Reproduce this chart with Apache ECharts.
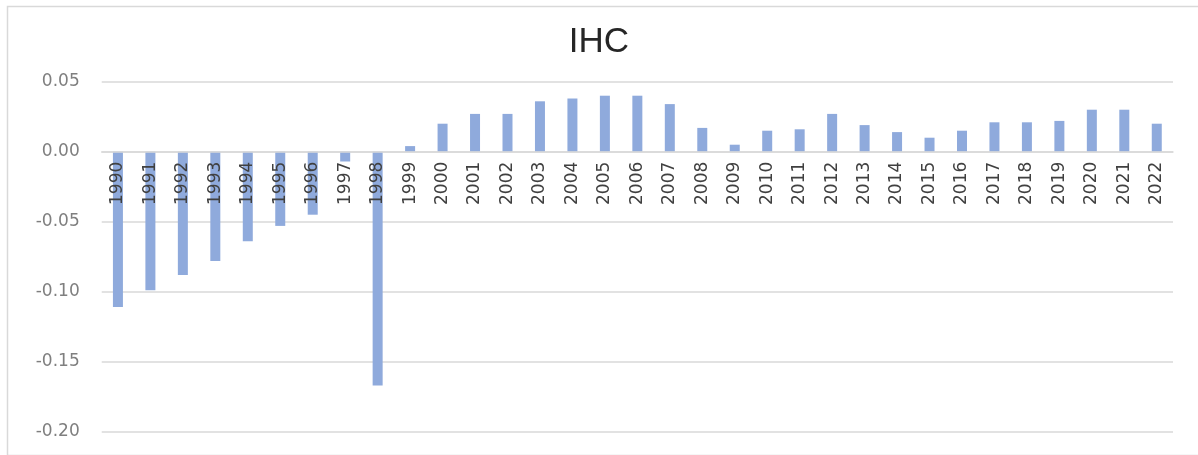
<!DOCTYPE html>
<html>
<head>
<meta charset="utf-8">
<script src="https://cdn.jsdelivr.net/npm/echarts@6/dist/echarts.min.js"></script>
<style>html,body{margin:0;padding:0;background:#fff;}#chart{width:1198px;height:455px;}</style>
</head>
<body>
<div id="chart"></div>
<script>
const chartTitle = 'IHC';
const years = ['1990','1991','1992','1993','1994','1995','1996','1997','1998','1999','2000','2001','2002','2003','2004','2005','2006','2007','2008','2009','2010','2011','2012','2013','2014','2015','2016','2017','2018','2019','2020','2021','2022'];
const ihcValues = [-0.111,-0.099,-0.088,-0.078,-0.064,-0.053,-0.045,-0.007,-0.167,0.004,0.020,0.027,0.027,0.036,0.038,0.040,0.040,0.034,0.017,0.005,0.015,0.016,0.027,0.019,0.014,0.010,0.015,0.021,0.021,0.022,0.030,0.030,0.020];
const yMin = -0.20, yMax = 0.05, yStep = 0.05;

const W = 1198, H = 455;
const gridTop = 81.7, gridBottom = 23.3;
const plotH = H - gridTop - gridBottom;
// shift the category axis up so it sits on the zero line
const zeroOffset = -((0 - yMin) / (yMax - yMin)) * plotH;

const chart = echarts.init(document.getElementById('chart'), null, {renderer: 'canvas'});
chart.setOption({
  animation: false,
  backgroundColor: '#ffffff',
  graphic: [{
    type: 'rect', left: 5, top: 4, shape: {x: 0, y: 0, width: 1200, height: 449},
    style: {fill: 'none', stroke: '#d9d9d9', lineWidth: 1.5}, silent: true
  }],
  title: {
    text: chartTitle, left: 'center', top: 20,
    textStyle: {fontFamily: 'Liberation Sans', fontSize: 35, fontWeight: 'normal', color: '#262626'}
  },
  grid: {left: 101.7, right: 25, top: gridTop, bottom: gridBottom, containLabel: false, outerBoundsMode: 'none'},
  xAxis: {
    type: 'category', data: years, position: 'bottom', offset: zeroOffset, z: 5,
    axisLine: {onZero: false, lineStyle: {color: '#d9d9d9', width: 1.5}},
    axisTick: {show: false},
    axisLabel: {rotate: 90, margin: 10, interval: 0, fontFamily: 'DejaVu Sans', fontSize: 17, color: '#404040'},
    splitLine: {show: false}
  },
  yAxis: {
    type: 'value', min: yMin, max: yMax, interval: yStep,
    axisLine: {show: false}, axisTick: {show: false},
    axisLabel: {margin: 22, fontFamily: 'DejaVu Sans', fontSize: 17, color: '#7f7f7f', formatter: v => v.toFixed(2)},
    splitLine: {lineStyle: {color: '#d9d9d9', width: 1.5}}
  },
  series: [{
    type: 'bar', data: ihcValues, barWidth: 10, z: 2,
    itemStyle: {color: '#8faadc'}
  }]
});
</script>
</body>
</html>
